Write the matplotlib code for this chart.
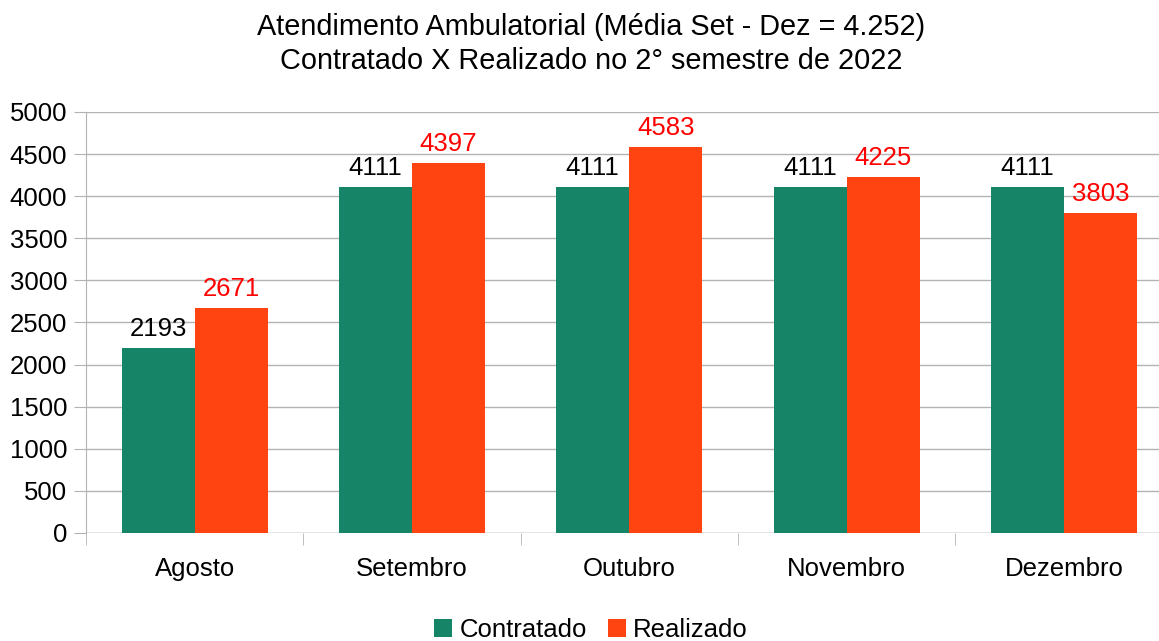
import matplotlib.pyplot as plt
import numpy as np

plt.rcParams['font.family'] = ['Liberation Sans', 'DejaVu Sans']

months = ['Agosto', 'Setembro', 'Outubro', 'Novembro', 'Dezembro']
contratado = [2193, 4111, 4111, 4111, 4111]
realizado = [2671, 4397, 4583, 4225, 3803]

green = '#168467'
orange = '#ff4412'
grid_c = '#b3b3b3'

fig = plt.figure(figsize=(11.59, 6.41), dpi=100)
ax = fig.add_axes([0.0742, 0.1685, 0.9258, 0.6568])

x = np.arange(len(months))
w = 0.336
ax.bar(x - w / 2, contratado, w, color=green, label='Contratado', zorder=3)
ax.bar(x + w / 2, realizado, w, color=orange, label='Realizado', zorder=3)

for i in range(len(months)):
    ax.annotate(str(contratado[i]), (x[i] - w / 2, contratado[i]), xytext=(0, 5),
                textcoords='offset points', ha='center', va='bottom', fontsize=18.5, color='black')
    ax.annotate(str(realizado[i]), (x[i] + w / 2, realizado[i]), xytext=(0, 5),
                textcoords='offset points', ha='center', va='bottom', fontsize=18.5, color='#ff0000')

ax.set_yticks(range(0, 5001, 500))
ax.yaxis.grid(True, color=grid_c, linewidth=1, zorder=0)
ax.tick_params(axis='y', length=8.6, color=grid_c, labelsize=18.5, pad=5)
ax.set_xticks(x)
ax.set_xticklabels(months)
ax.tick_params(axis='x', length=0, labelsize=18.5, pad=17)
ax.set_xticks(np.arange(-0.5, len(months)), minor=True)
ax.tick_params(axis='x', which='minor', length=8.6, color=grid_c)
# plot area runs past the right edge, as in the original
ax.set_xlim(-0.5, -0.5 + 1073 / 217.3)
ax.set_ylim(0, 5000)
for s in ['top', 'right', 'bottom']:
    ax.spines[s].set_visible(False)
ax.spines['left'].set_color(grid_c)
ax.axhline(0, color=grid_c, linewidth=1, zorder=2)

fig.suptitle('Atendimento Ambulatorial (Média Set - Dez = 4.252)\nContratado X Realizado no 2° semestre de 2022',
             fontsize=20.8, x=0.51, y=0.979, linespacing=1.27)

fig.legend(loc='lower center', bbox_to_anchor=(0.51, -0.037), ncol=2, frameon=False,
           fontsize=18.5, handlelength=0.7, handleheight=0.7, handletextpad=0.3, columnspacing=0.8)

fig.savefig('out.png', dpi=100)
